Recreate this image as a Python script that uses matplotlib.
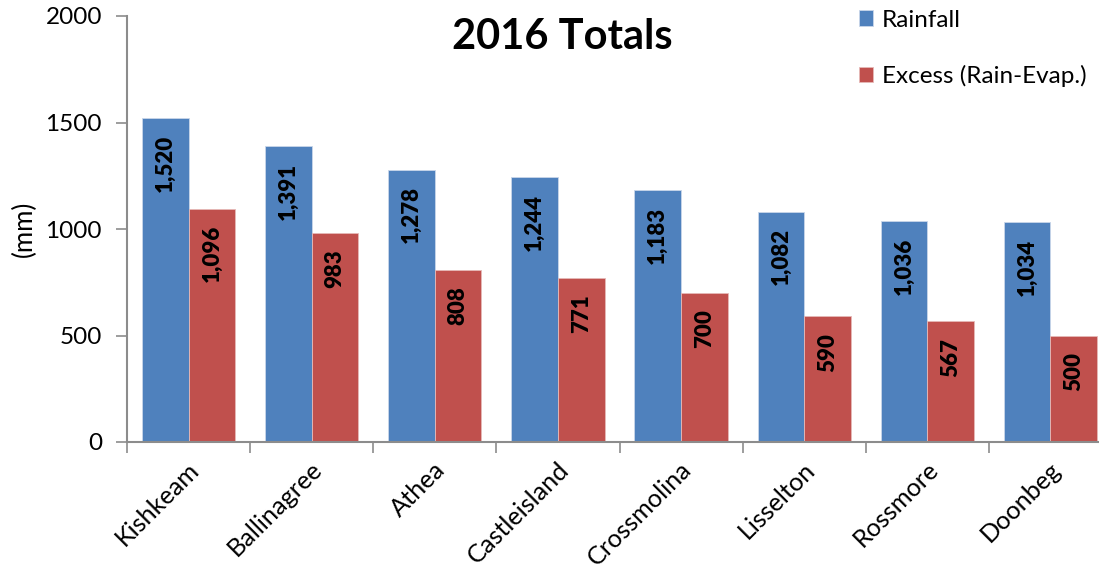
import matplotlib.pyplot as plt
import numpy as np

plt.rcParams['font.family'] = ['Lato', 'DejaVu Sans']

sites = ['Kishkeam', 'Ballinagree', 'Athea', 'Castleisland', 'Crossmolina',
         'Lisselton', 'Rossmore', 'Doonbeg']
rainfall = [1520, 1391, 1278, 1244, 1183, 1082, 1036, 1034]
excess = [1096, 983, 808, 771, 700, 590, 567, 500]

blue = '#4F81BD'
red = '#C0504D'
grey = '#8c8c8c'

fig = plt.figure(figsize=(10.99, 5.73), dpi=100)
ax = fig.add_axes([127 / 1099, 131 / 573, 985 / 1099, 426 / 573])

x = np.arange(len(sites))
w = 0.379
b1 = ax.bar(x - w / 2, rainfall, w, color=blue, edgecolor='#c9d6ea', linewidth=0.6,
            label='Rainfall')
b2 = ax.bar(x + w / 2, excess, w, color=red, edgecolor='#e6b9b8', linewidth=0.6,
            label='Excess (Rain-Evap.)')

for bars, vals in ((b1, rainfall), (b2, excess)):
    for r, v in zip(bars, vals):
        ax.annotate(f'{v:,}', (r.get_x() + r.get_width() / 2, v),
                    xytext=(0, -12), textcoords='offset points',
                    rotation=90, ha='center', va='top',
                    fontsize=16, fontweight='heavy', color='black')

ax.set_xlim(-0.5, len(sites) - 0.5)
ax.set_ylim(0, 2000)
ax.set_yticks([0, 500, 1000, 1500, 2000])
ax.tick_params(axis='y', labelsize=17.5, length=8, width=1.2, color=grey, pad=10)

ax.set_xticks(x)
ax.set_xticklabels([])
ax.tick_params(axis='x', which='major', length=0)
ax.set_xticks(np.arange(-0.5, len(sites) + 0.5, 1), minor=True)
ax.tick_params(axis='x', which='minor', length=8, width=1.2, color=grey)
for xi, s in zip(x, sites):
    ax.annotate(s, (xi, 0), xytext=(5, -17), textcoords='offset points',
                rotation=45, ha='right', va='center', rotation_mode='anchor',
                fontsize=18.2, annotation_clip=False)

for side in ('top', 'right'):
    ax.spines[side].set_visible(False)
for side in ('left', 'bottom'):
    ax.spines[side].set_color(grey)
    ax.spines[side].set_linewidth(1.5)

ax.set_ylabel('(mm)', fontsize=18.5, labelpad=6)
fig.text(562 / 1099, 1 - 37 / 573, '2016 Totals', ha='center', va='center',
         fontsize=30, fontweight='bold')

fig.legend(loc='upper left', bbox_to_anchor=(849 / 1099, 1 - 0 / 573),
           frameon=False, fontsize=17.5, handlelength=0.6, handleheight=0.6,
           handletextpad=0.35, labelspacing=1.4, borderaxespad=0)

fig.savefig('out.png', dpi=100)
